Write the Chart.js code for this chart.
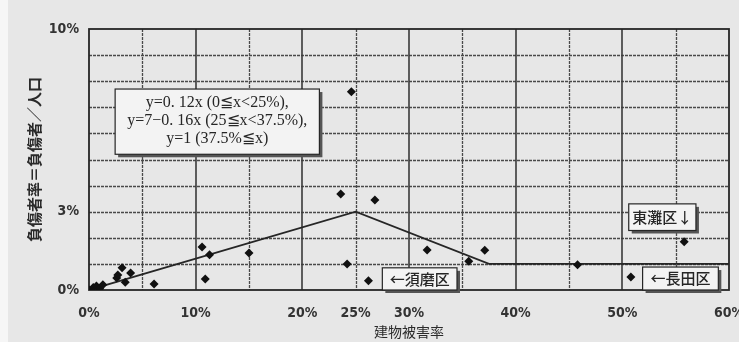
<!DOCTYPE html>
<html>
<head>
<meta charset="utf-8">
<script src="https://cdn.jsdelivr.net/npm/chart.js@4/dist/chart.umd.min.js"></script>
<style>
  html, body { margin: 0; padding: 0; }
  body { width: 739px; height: 342px; overflow: hidden;
         background: linear-gradient(to right, #f6f6f6 0px, #f6f6f6 8px, #e7e7e7 8px); }
  #wrap { position: relative; width: 739px; height: 342px; }
</style>
</head>
<body>
<div id="wrap"><canvas id="injury_plot" width="739" height="342"></canvas></div>
<script>
// 建物被害率 (%) vs 負傷者率 (%) per district
var damageRate = [0, 0.4, 0.7, 1.0, 1.3, 2.6, 2.7, 3.1, 3.4, 3.9, 6.1, 10.6, 10.9, 11.3, 15.0,
                  23.6, 24.2, 24.6, 26.2, 26.8, 31.7, 35.6, 37.1, 45.8, 50.8, 55.8];
var injuryRate = [0, 0.1, 0.15, 0.05, 0.2, 0.46, 0.57, 0.85, 0.3, 0.65, 0.23, 1.65, 0.42, 1.35, 1.42,
                  3.68, 1.0, 7.6, 0.35, 3.45, 1.53, 1.1, 1.52, 0.97, 0.5, 1.85];

// model line: y=0.12x, y=7-0.16x, y=1
var modelX = [0, 25, 37.5, 60];
var modelY = [0, 3, 1, 1];

var xTickLabels = [0, 10, 20, 25, 30, 40, 50, 60];
var yTickLabels = [0, 3, 10];

var equationLines = ['y=0. 12x (0\u2266x<25%),', 'y=7\u22120. 16x (25\u2266x<37.5%),', 'y=1 (37.5%\u2266x)'];

var ink = '#262626';

// grid, frame and label boxes drawn through the chart scales
var sketchPlugin = {
    id: 'sketch',
    beforeDatasetsDraw: function(chart) {
        var ctx = chart.ctx, a = chart.chartArea;
        var xs = chart.scales.x, ys = chart.scales.y;
        ctx.save();
        // horizontal dashed lines every 1%
        ctx.strokeStyle = '#4a4a4a';
        ctx.lineWidth = 1.3;
        ctx.setLineDash([3, 1]);
        for (var v = 1; v < 10; v++) {
            var py = Math.round(ys.getPixelForValue(v)) + 0.5;
            ctx.beginPath(); ctx.moveTo(a.left, py); ctx.lineTo(a.right, py); ctx.stroke();
        }
        // vertical dashed lines at 5, 15, ...
        for (var x = 5; x < 60; x += 10) {
            var px = Math.round(xs.getPixelForValue(x)) + 0.5;
            ctx.beginPath(); ctx.moveTo(px, a.top); ctx.lineTo(px, a.bottom); ctx.stroke();
        }
        // vertical solid lines at 10, 20, ...
        ctx.setLineDash([]);
        ctx.strokeStyle = '#3a3a3a';
        ctx.lineWidth = 1.6;
        for (var x2 = 10; x2 < 60; x2 += 10) {
            var px2 = Math.round(xs.getPixelForValue(x2));
            ctx.beginPath(); ctx.moveTo(px2, a.top); ctx.lineTo(px2, a.bottom); ctx.stroke();
        }
        // frame
        ctx.strokeStyle = ink;
        ctx.lineWidth = 1.8;
        ctx.strokeRect(a.left, a.top, a.right - a.left, a.bottom - a.top);
        ctx.restore();
    },
    afterDatasetsDraw: function(chart) {
        var ctx = chart.ctx;
        var xs = chart.scales.x, ys = chart.scales.y;
        function box(x0, y0, x1, y1) {
            var l = xs.getPixelForValue(x0), r = xs.getPixelForValue(x1);
            var t = ys.getPixelForValue(y0), b = ys.getPixelForValue(y1);
            ctx.fillStyle = '#555';
            ctx.fillRect(l + 3, t + 3, r - l, b - t);
            ctx.fillStyle = '#f3f3f3';
            ctx.fillRect(l, t, r - l, b - t);
            ctx.strokeStyle = ink;
            ctx.lineWidth = 1.2;
            ctx.strokeRect(l, t, r - l, b - t);
            return {l: l, r: r, t: t, b: b};
        }
        ctx.save();
        ctx.textAlign = 'center';
        ctx.textBaseline = 'middle';
        // equation box
        var e = box(2.45, 7.7, 21.6, 5.2);
        ctx.fillStyle = ink;
        ctx.font = '16px "Liberation Serif", "DejaVu Serif", serif';
        var cx = (e.l + e.r) / 2;
        for (var i = 0; i < equationLines.length; i++) {
            ctx.fillText(equationLines[i], cx, e.t + 14 + i * 18);
        }
        // district labels
        ctx.font = '500 15px "Noto Sans CJK JP", sans-serif';
        var s = box(27.5, 0.85, 34.5, 0.0);
        ctx.fillStyle = ink;
        ctx.fillText('\u2190須磨区', (s.l + s.r) / 2, (s.t + s.b) / 2);
        var n = box(51.9, 0.88, 59.0, 0.0);
        ctx.fillStyle = ink;
        ctx.fillText('\u2190長田区', (n.l + n.r) / 2, (n.t + n.b) / 2);
        var h = box(50.6, 3.3, 56.9, 2.28);
        ctx.fillStyle = ink;
        ctx.fillText('東灘区\u2193', (h.l + h.r) / 2, (h.t + h.b) / 2);
        ctx.restore();
    }
};

var points = damageRate.map(function(x, i) { return {x: x, y: injuryRate[i]}; });
var model = modelX.map(function(x, i) { return {x: x, y: modelY[i]}; });

var tickFont = {family: '"DejaVu Sans Condensed", "DejaVu Sans", sans-serif', size: 14, weight: 'bold'};

new Chart(document.getElementById('injury_plot'), {
    type: 'scatter',
    data: {
        datasets: [
            {
                label: 'model',
                data: model,
                showLine: true,
                borderColor: ink,
                borderWidth: 1.8,
                pointRadius: 0,
                order: 1
            },
            {
                label: 'districts',
                data: points,
                pointStyle: 'rectRot',
                pointRadius: 4.5,
                backgroundColor: '#111',
                borderColor: '#111',
                borderWidth: 0,
                order: 0
            }
        ]
    },
    options: {
        responsive: false,
        animation: false,
        layout: { padding: { left: 0, right: 10, top: 29, bottom: 0 } },
        plugins: { legend: { display: false }, tooltip: { enabled: false } },
        scales: {
            x: {
                type: 'linear',
                min: 0,
                max: 60,
                afterBuildTicks: function(scale) {
                    scale.ticks = xTickLabels.map(function(v) { return {value: v}; });
                },
                afterFit: function(scale) {
                    scale.height = 52;
                    scale.paddingLeft = 0;
                    scale.paddingRight = 0;
                },
                ticks: {
                    color: '#333',
                    font: tickFont,
                    padding: 15,
                    maxRotation: 0,
                    autoSkip: false,
                    callback: function(v) { return v + '%'; }
                },
                grid: { display: false, drawTicks: false },
                border: { display: false },
                title: {
                    display: true,
                    text: '建物被害率',
                    color: '#2a2a2a',
                    font: {family: '"Noto Sans CJK JP", sans-serif', size: 14},
                    padding: {top: 0, bottom: 2}
                }
            },
            y: {
                type: 'linear',
                min: 0,
                max: 10,
                afterBuildTicks: function(scale) {
                    scale.ticks = yTickLabels.map(function(v) { return {value: v}; });
                },
                afterFit: function(scale) {
                    scale.width = 89;
                    scale.paddingTop = 0;
                    scale.paddingBottom = 0;
                },
                ticks: {
                    color: '#333',
                    font: tickFont,
                    padding: 10,
                    autoSkip: false,
                    callback: function(v) { return v + '%'; }
                },
                grid: { display: false, drawTicks: false },
                border: { display: false },
                title: {
                    display: true,
                    text: '負傷者率＝負傷者／人口',
                    color: '#2a2a2a',
                    font: {family: '"Noto Sans CJK JP", sans-serif', size: 15, weight: 'bold'},
                    padding: {top: 25, bottom: 0}
                }
            }
        }
    },
    plugins: [sketchPlugin]
});
</script>
</body>
</html>
